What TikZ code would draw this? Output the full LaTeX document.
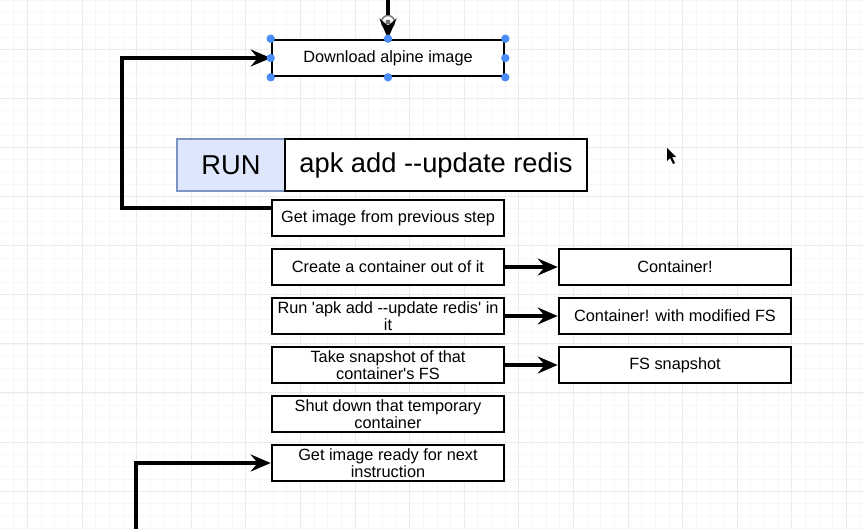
\documentclass[tikz,border=0pt]{standalone}
\usepackage{fontspec}
\setmainfont{Liberation Sans}[Ligatures=TeXOff]
\usetikzlibrary{arrows.meta}
\definecolor{runfill}{RGB}{221,230,250}
\definecolor{runline}{RGB}{124,148,196}
\definecolor{handle}{RGB}{74,141,248}
\tikzset{
  box/.style={draw, line width=2.6pt, minimum width=232pt, minimum height=36pt,
    inner sep=1pt, align=center, font=\fontsize{16.3}{17}\selectfont},
  bigbox/.style={draw, line width=2.6pt, minimum height=52pt, inner sep=0pt,
    font=\fontsize{27.3}{30}\selectfont},
  flow/.style={line width=3.6pt, -{Stealth[length=20pt, width=17pt, inset=7pt]}}
}
\begin{document}
\begin{tikzpicture}[x=1pt, y=-1pt]
\useasboundingbox (0,0) rectangle (864,528);
%grid
    \foreach \i in {-1,...,62} \draw[black!3, line width=0.6pt] (27.3+13.65*\i,0) -- ++(0,528);
    \foreach \j in {0,...,43} \draw[black!3, line width=0.6pt] (0,12.28*\j) -- ++(864,0);
    \foreach \i in {0,...,15} \draw[black!8, line width=0.8pt] (27.3+54.6*\i,0) -- ++(0,528);
    \foreach \j in {1,...,10} \draw[black!8, line width=0.8pt] (0,49.1*\j) -- ++(864,0);
%instruction
    \node[bigbox, draw=runline, fill=runfill, minimum width=108pt] (run) at (231,165) {RUN};
    \node[bigbox, fill=white, minimum width=302pt] (cmd) at (436,165) {apk add --update redis};
%steps
    \node[box, fill=white] (download) at (388,58) {Download alpine image};
    \node[box, fill=white] (prev) at (388,218) {Get image from previous step};
    \node[box, fill=white] (create) at (388,267) {Create a container out of it};
    \node[box, fill=white] (exec) at (388,316) {Run 'apk add --update redis' in\\it};
    \node[box, fill=white] (snap) at (388,365) {Take snapshot of that\\container's FS};
    \node[box, fill=white] (shut) at (388,414) {Shut down that temporary\\container};
    \node[box, fill=white] (ready) at (388,463) {Get image ready for next\\instruction};
%results
    \node[box, fill=white] (cont) at (675,267) {Container!};
    \node[box, fill=white] (mod) at (675,316) {Container! with modified FS};
    \node[box, fill=white] (fssnap) at (675,365) {FS snapshot};
%selection icon
    \filldraw[fill=white, draw=black!55, line width=1.4pt] (388,22) circle (6.5pt);
    \fill[black!55] (388,22) circle (2.5pt);
%arrows
    \coordinate (top) at (388,0); \coordinate (loopin) at (136,530);
    \draw[line width=3.6pt] (top) -- (388,15);
    \draw[flow, shorten <=25pt] (top) -- (download.north);
    \draw[flow] ([yshift=-9pt]prev.north west) -- ++(-149,0) |- (download.west);
    \draw[flow] (loopin) |- (ready.west);
    \draw[flow] (create) -- (cont);
    \draw[flow] (exec) -- (mod);
    \draw[flow] (snap) -- (fssnap);
%selection
    \draw[white, line width=0.9pt, dash pattern=on 3pt off 3pt] (download.north west) rectangle (download.south east);
    \foreach \a in {north west, north, north east, east, south east, south, south west, west}
      \fill[handle] (download.\a) circle (4.2pt);
%cursor
    \fill[black] (667,148) -- ++(0,13) -- ++(3,-3) -- ++(3,6) -- ++(2,-1) -- ++(-3,-6) -- ++(4,0) -- cycle;
\end{tikzpicture}
\end{document}
